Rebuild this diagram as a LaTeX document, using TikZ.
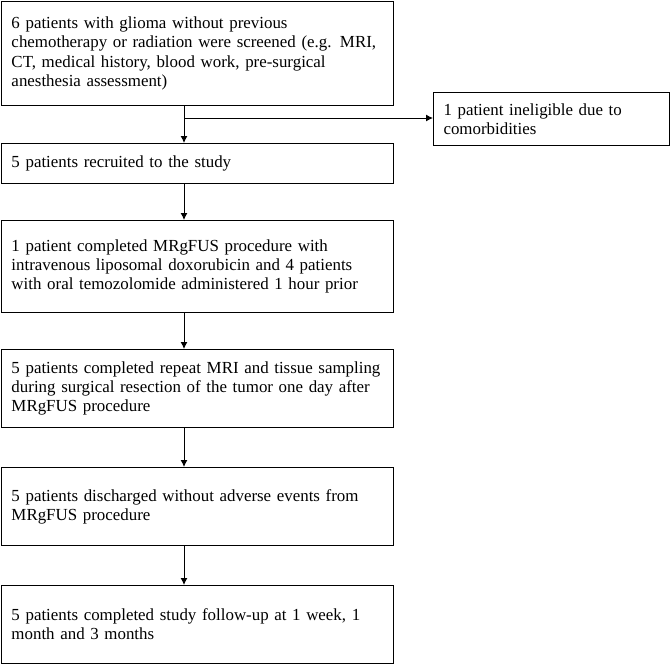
\documentclass[tikz,border=0pt]{standalone}
\usepackage{fontspec}
\setmainfont{Liberation Serif}
\usetikzlibrary{arrows.meta}

\tikzset{
  stagebox/.style={draw, rectangle, line width=1pt, anchor=north west, align=left,
    inner xsep=10pt, inner ysep=0pt, font=\fontsize{16.9}{19.2}\selectfont},
  flow/.style={line width=1pt, -{Latex[length=7pt,width=7pt]}}
}

\begin{document}
\begin{tikzpicture}[x=1pt,y=-1pt]
\useasboundingbox (0,0) rectangle (670,664);

\node[stagebox, minimum width=392pt, minimum height=104pt, text width=372pt] (screened) at (1,1)
  {6 patients with glioma without previous\\chemotherapy or radiation were screened (e.g. MRI,\\CT, medical history, blood work, pre-surgical\\anesthesia assessment)};
\node[stagebox, minimum width=236pt, minimum height=53pt, text width=216pt] (ineligible) at (433,92)
  {1 patient ineligible due to\\comorbidities};
\node[stagebox, minimum width=392pt, minimum height=40pt, text width=372pt] (recruited) at (1,143)
  {5 patients recruited to the study};
\node[stagebox, minimum width=392pt, minimum height=92pt, text width=372pt] (procedure) at (1,220)
  {1 patient completed MRgFUS procedure with\\intravenous liposomal doxorubicin and 4 patients\\with oral temozolomide administered 1 hour prior};
\node[stagebox, minimum width=392pt, minimum height=78pt, text width=372pt] (resection) at (1,349)
  {5 patients completed repeat MRI and tissue sampling\\during surgical resection of the tumor one day after\\MRgFUS procedure};
\node[stagebox, minimum width=392pt, minimum height=78pt, text width=372pt] (discharged) at (1,467)
  {5 patients discharged without adverse events from\\MRgFUS procedure};
\node[stagebox, minimum width=392pt, minimum height=78pt, text width=372pt] (followup) at (1,585)
  {5 patients completed study follow-up at 1 week, 1\\month and 3 months};

% connectors down the column
\coordinate (branch) at (184,118);
\draw[line width=1pt] (screened.south west -| branch) -- (branch);
\draw[flow] (branch) -- (recruited.north west -| branch);
\draw[flow] (branch) -- (branch -| ineligible.west);
\foreach \a/\b in {recruited/procedure, procedure/resection, resection/discharged, discharged/followup}
    \draw[flow] (\a.south west -| branch) -- (\b.north west -| branch);
\end{tikzpicture}
\end{document}
